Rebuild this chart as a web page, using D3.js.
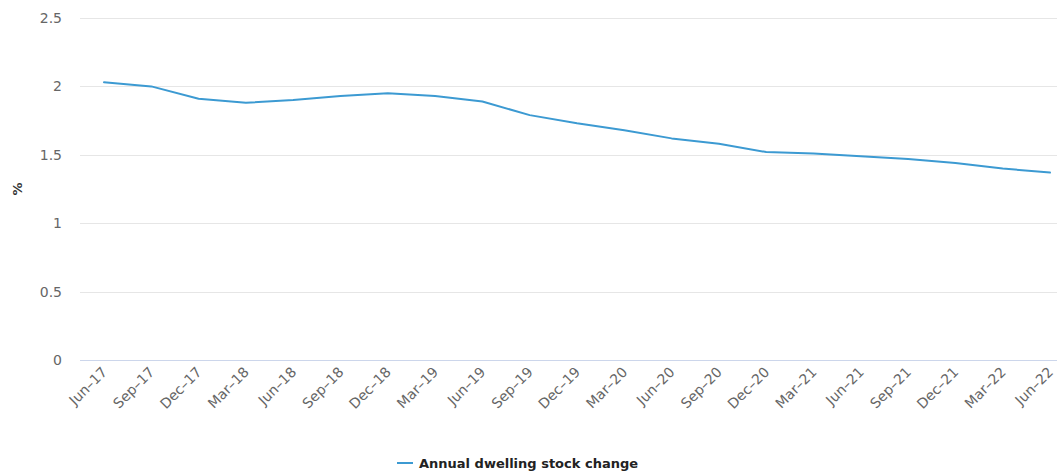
<!DOCTYPE html>
<html><head><meta charset="utf-8">
<script src="https://cdn.jsdelivr.net/npm/d3@7"></script>
<style>body{margin:0;background:#fff}svg{display:block}</style>
</head><body><div id="c"></div>
<script>
const categories = ["Jun-17","Sep-17","Dec-17","Mar-18","Jun-18","Sep-18","Dec-18","Mar-19","Jun-19","Sep-19","Dec-19","Mar-20","Jun-20","Sep-20","Dec-20","Mar-21","Jun-21","Sep-21","Dec-21","Mar-22","Jun-22"];
const values = [2.03,2.00,1.91,1.88,1.90,1.93,1.95,1.93,1.89,1.79,1.73,1.68,1.62,1.58,1.52,1.51,1.49,1.47,1.44,1.40,1.37];
const yTicks = [0,0.5,1,1.5,2,2.5];
const seriesName = "Annual dwelling stock change";

(function(){
const W=1057,H=472;
const svg=d3.select("#c").append("svg").attr("width",W).attr("height",H);
const font='"DejaVu Sans", Verdana, sans-serif';
const pl=80,pr=1057,pt=18,pb=360;
const y=d3.scaleLinear().domain([0,2.5]).range([pb,pt]);
const x=d3.scalePoint().domain(categories).range([104,1050]);

svg.append("g").selectAll("line").data(yTicks.filter(d=>d>0)).join("line")
 .attr("x1",pl).attr("x2",pr).attr("y1",d=>Math.round(y(d))+0.5).attr("y2",d=>Math.round(y(d))+0.5)
 .attr("stroke","#e6e6e6").attr("stroke-width",1);
svg.append("line").attr("x1",pl).attr("x2",pr).attr("y1",Math.round(y(0))+0.5).attr("y2",Math.round(y(0))+0.5)
 .attr("stroke","#ccd6eb").attr("stroke-width",1);

svg.append("g").selectAll("text").data(yTicks).join("text")
 .attr("x",62).attr("y",d=>y(d)+5).attr("text-anchor","end")
 .attr("font-family",font).attr("font-size",14).attr("fill","#666")
 .text(d=>d);

svg.append("text").attr("transform",`translate(22,${(pt+pb)/2}) rotate(-90)`)
 .attr("text-anchor","middle").attr("font-family",font).attr("font-size",13).attr("font-weight","bold").attr("fill","#333").text("%");

svg.append("g").selectAll("text").data(categories).join("text")
 .attr("transform",d=>`translate(${x(d)+4},${pb+13}) rotate(-45)`)
 .attr("text-anchor","end").attr("font-family",font).attr("font-size",14).attr("fill","#666")
 .text(d=>d.replace("-","–"));

const line=d3.line().x((d,i)=>x(categories[i])).y(d=>y(d));
svg.append("path").datum(values).attr("d",line).attr("fill","none")
 .attr("stroke","#3c9ad2").attr("stroke-width",2).attr("stroke-linejoin","round").attr("stroke-linecap","round");

const lg=svg.append("g");
lg.append("text").attr("x",419).attr("y",468).attr("font-family",font).attr("font-size",13).attr("font-weight","bold").attr("fill","#222").text(seriesName);
lg.append("line").attr("x1",397).attr("x2",413).attr("y1",463).attr("y2",463).attr("stroke","#3c9ad2").attr("stroke-width",2);
})();
</script></body></html>
